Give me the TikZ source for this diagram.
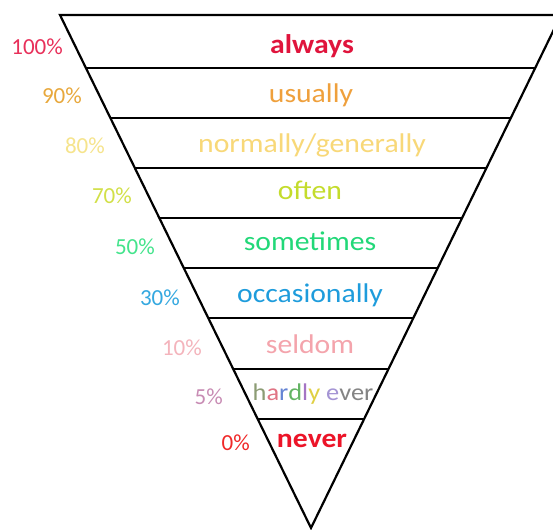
\documentclass[tikz,border=0pt]{standalone}
\usepackage{fontspec}
\setmainfont{Carlito}
\newfontfamily\wordfont[FakeStretch=1.1]{Carlito}
\usetikzlibrary{calc}
\definecolor{cAlways}{HTML}{E0143C}
\definecolor{cUsually}{HTML}{EFA03C}
\definecolor{cNormally}{HTML}{F8D878}
\definecolor{cOften}{HTML}{C4DC2C}
\definecolor{cSometimes}{HTML}{22D878}
\definecolor{cOccas}{HTML}{1E9CDC}
\definecolor{cSeldom}{HTML}{F4A4AC}
\definecolor{cNever}{HTML}{EC1428}
\definecolor{p100}{HTML}{E8305A}
\definecolor{p90}{HTML}{E8A83C}
\definecolor{p80}{HTML}{F6E48C}
\definecolor{p70}{HTML}{D2E048}
\definecolor{p50}{HTML}{44E48C}
\definecolor{p30}{HTML}{34A8E0}
\definecolor{p10}{HTML}{F4B4BC}
\definecolor{p5}{HTML}{C88CB4}
\definecolor{p0}{HTML}{F02828}
\definecolor{hA}{HTML}{8C9C74}
\definecolor{hB}{HTML}{E07484}
\definecolor{hC}{HTML}{6484D4}
\definecolor{hD}{HTML}{64B464}
\definecolor{hE}{HTML}{A474C4}
\definecolor{hF}{HTML}{E0D044}
\definecolor{hG}{HTML}{A494D4}
\definecolor{hH}{HTML}{848484}
\begin{document}
\begin{tikzpicture}[x=1pt,y=-1pt,
  edge/.style={line width=2.2pt,black},
  word/.style={anchor=base,inner sep=0pt,font=\wordfont\fontsize{27}{27}\selectfont},
  boldword/.style={word,font=\wordfont\bfseries\fontsize{27}{27}\selectfont},
  pct/.style={anchor=base east,inner sep=0pt,font=\fontsize{23}{23}\selectfont}]
\useasboundingbox (0,0) rectangle (553,529);
\clip (0,0) rectangle (553,529);
\fill[white] (0,0) rectangle (553,529);
\coordinate (TL) at (60,15);
\coordinate (TR) at (561,15);
\coordinate (A) at (311,528);
\draw[edge,line join=miter] (TR) -- (TL) -- (A) -- cycle;
\foreach \i/\yy in {1/68,2/118,3/168,4/218,5/268,6/318,7/369,8/419}{
  \coordinate (l\i) at ($(TL)!{(\yy-15)/513}!(A)$);
  \coordinate (r\i) at ($(TR)!{(\yy-15)/513}!(A)$);
  \draw[edge] (l\i) -- (r\i);
}
\node[boldword,text=cAlways] (w1) at (312,54) {always};
\node[word,text=cUsually] (w2) at (311,103) {usually};
\node[word,text=cNormally] (w3) at (312,153) {normally/generally};
\node[word,text=cOften] (w4) at (310,200) {often};
\node[word,text=cSometimes] (w5) at (310,250) {sometimes};
\node[word,text=cOccas] (w6) at (310,302) {occasionally};
\node[word,text=cSeldom] (w7) at (310,353) {seldom};
\node[word,font=\wordfont\fontsize{24}{24}\selectfont] (w8) at (313,400) {\textcolor{hA}{h}\textcolor{hB}{a}\textcolor{hC}{r}\textcolor{hD}{d}\textcolor{hE}{l}\textcolor{hF}{y} \textcolor{hG}{e}\textcolor{hH}{ver}};
\node[boldword,text=cNever] (w9) at (312,447) {never};
\node[pct,text=p100] (p1) at (63,55) {100\%};
\node[pct,text=p90] (p2) at (82,104) {90\%};
\node[pct,text=p80] (p3) at (105,154) {80\%};
\node[pct,text=p70] (p4) at (132,204) {70\%};
\node[pct,text=p50] (p5) at (155,254) {50\%};
\node[pct,text=p30] (p6) at (180,305) {30\%};
\node[pct,text=p10] (p7) at (202,355) {10\%};
\node[pct,text=p5] (p8) at (223,404) {5\%};
\node[pct,text=p0] (p9) at (250,450) {0\%};
\end{tikzpicture}
\end{document}
